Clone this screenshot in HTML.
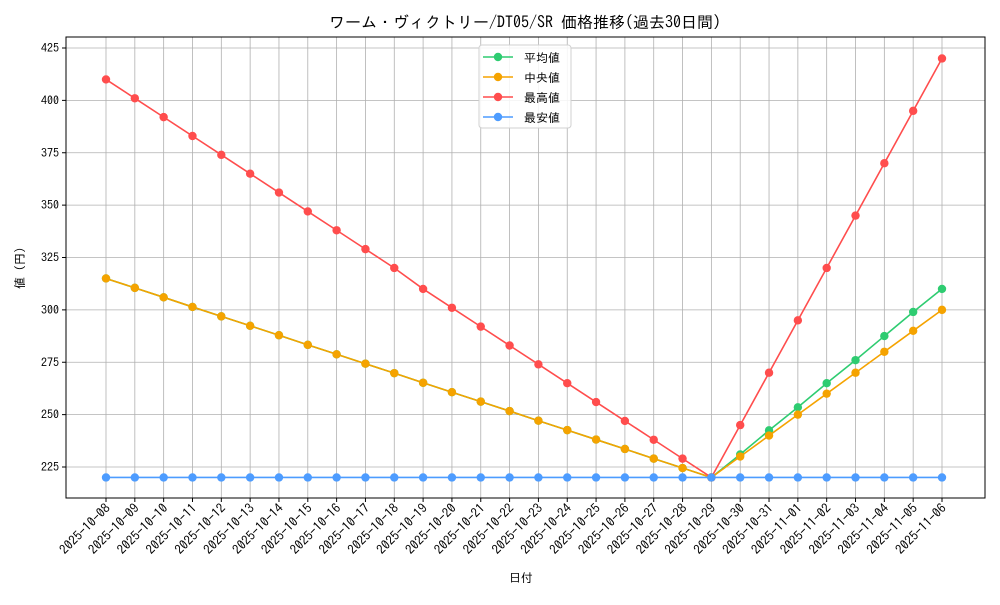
<!DOCTYPE html>
<html><head><meta charset="utf-8"><style>
body{margin:0;background:#fff;}
svg text{font-family:"IPAGothic","Liberation Sans","Noto Sans CJK JP",sans-serif;}
</style></head><body>
<svg id="chart" width="1000" height="600">
<text x="525" y="28" text-anchor="middle" font-size="16">ワーム・ヴィクトリー/DT05/SR 価格推移(過去30日間)</text>
<g id="grid"></g><g id="axes"></g><g id="series"></g>
<text x="521" y="582" text-anchor="middle" font-size="12">日付</text>
<text x="24" y="268" text-anchor="middle" font-size="12" transform="rotate(-90 24 268)">値 (円)</text>
<g id="legend"></g>
</svg>
<script>
const dates=["2025-10-08","2025-10-09","2025-10-10","2025-10-11","2025-10-12","2025-10-13","2025-10-14","2025-10-15","2025-10-16","2025-10-17","2025-10-18","2025-10-19","2025-10-20","2025-10-21","2025-10-22","2025-10-23","2025-10-24","2025-10-25","2025-10-26","2025-10-27","2025-10-28","2025-10-29","2025-10-30","2025-10-31","2025-11-01","2025-11-02","2025-11-03","2025-11-04","2025-11-05","2025-11-06"];
const avgVals=[315,310.5,306,301.4,296.9,292.4,287.9,283.3,278.8,274.3,269.8,265.2,260.7,256.2,251.7,247.1,242.6,238.1,233.6,229,224.5,220,231,242.5,253.5,265,276,287.5,299,310];
const medVals=[315,310.5,306,301.4,296.9,292.4,287.9,283.3,278.8,274.3,269.8,265.2,260.7,256.2,251.7,247.1,242.6,238.1,233.6,229,224.5,220,230,240,250,260,270,280,290,300];
const maxVals=[410,401,392,383,374,365,356,347,338,329,320,310,301,292,283,274,265,256,247,238,229,220,245,270,295,320,345,370,395,420];
const minVals=[220,220,220,220,220,220,220,220,220,220,220,220,220,220,220,220,220,220,220,220,220,220,220,220,220,220,220,220,220,220];
const yTicks=[225,250,275,300,325,350,375,400,425];
const seriesNames=["平均値","中央値","最高値","最安値"];
const seriesColors=["#2ecc71","#f5a300","#ff4d4d","#4d9cff"];

const NS="http://www.w3.org/2000/svg";
const L=66,R=985,T=37,B=498;
const xS=i=>106+i*(942-106)/(dates.length-1);
const yS=v=>467-(v-225)*(467-48)/200;
function mk(tag,attrs,parent){const e=document.createElementNS(NS,tag);for(const k in attrs)e.setAttribute(k,attrs[k]);parent.appendChild(e);return e;}
const grid=document.getElementById('grid'),axes=document.getElementById('axes'),ser=document.getElementById('series'),leg=document.getElementById('legend');
dates.forEach((d,i)=>{
  const x=xS(i);
  const g=mk('line',{x1:x,x2:x,y1:T,y2:B,stroke:'#b0b0b0','stroke-width':0.8},grid);
  
  
  mk('line',{x1:x,x2:x,y1:B,y2:B+4,stroke:'#000'},axes);
  const t=mk('text',{x:x+5,y:B+11,'font-size':13,'text-anchor':'end',transform:`rotate(-45 ${x+5} ${B+11})`},axes);
  t.textContent=d;
  
  
});
yTicks.forEach(v=>{
  const y=yS(v);
  const g=mk('line',{x1:L,x2:R,y1:y,y2:y,stroke:'#b0b0b0','stroke-width':0.8},grid);
  
  
  mk('line',{x1:L-4,x2:L,y1:y,y2:y,stroke:'#000'},axes);
  const t=mk('text',{x:L-7,y:y+4,'font-size':12,'text-anchor':'end'},axes);
  t.textContent=v;
  
  
});
const fr=mk('rect',{x:L,y:T,width:R-L,height:B-T,fill:'none',stroke:'#000','stroke-width':1},axes);


const all=[avgVals,medVals,maxVals,minVals];
all.forEach((vals,si)=>{
  const g=mk('g',{},ser);
  
  
  mk('polyline',{points:vals.map((v,i)=>xS(i)+','+yS(v)).join(' '),fill:'none',stroke:seriesColors[si],'stroke-width':1.6},g);
  vals.forEach((v,i)=>{
    const c=mk('circle',{cx:xS(i),cy:yS(v),r:4.2,fill:seriesColors[si]},g);
    
    
  });
});
const lb=mk('rect',{x:479,y:45,width:92,height:83,rx:3,fill:'#fff','fill-opacity':0.85,stroke:'#d0d0d0'},leg);


seriesNames.forEach((n,i)=>{
  const y=57+i*20;
  const g=mk('g',{},leg);
  
  
  mk('line',{x1:483,x2:513,y1:y,y2:y,stroke:seriesColors[i],'stroke-width':1.6},g);
  mk('circle',{cx:498,cy:y,r:4.2,fill:seriesColors[i]},g);
  const t=mk('text',{x:524,y:y+5,'font-size':12},g);
  t.textContent=n;
});
</script>
</body></html>
